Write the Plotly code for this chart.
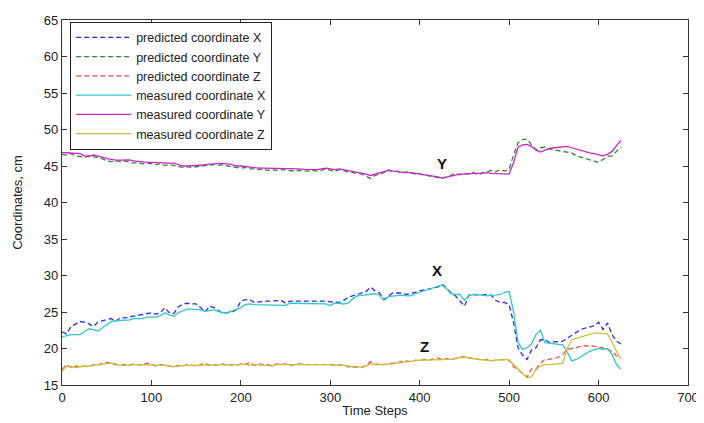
import plotly.graph_objects as go

steps = list(range(0, 626, 5))

meas_x = [21.6, 21.8, 21.9, 21.9, 21.9, 22.3, 22.7, 22.6, 22.4, 22.8,
          23.3, 23.7, 23.8, 23.9, 23.9, 23.9, 24.1, 24.1, 24.1, 24.3,
          24.3, 24.3, 24.5, 24.9, 24.6, 24.4, 24.9, 25.1, 25.4, 25.4,
          25.4, 25.3, 25.1, 25.2, 25.3, 25.1, 24.9, 24.9, 25.1, 25.3,
          25.6, 26.0, 26.1, 26.0, 26.0, 26.0, 26.0, 26.0, 26.0, 26.0,
          25.9, 26.2, 26.2, 26.2, 26.2, 26.2, 26.2, 26.2, 26.2, 26.1,
          25.9, 26.2, 26.2, 26.1, 26.2, 26.8, 27.2, 27.3, 27.4, 27.5,
          27.5, 27.3, 26.6, 27.1, 27.2, 27.3, 27.3, 27.2, 27.2, 27.5,
          27.7, 27.9, 28.1, 28.3, 28.6, 28.7, 28.2, 27.5, 27.4, 27.4,
          26.6, 27.2, 27.4, 27.4, 27.3, 27.2, 27.2, 27.3, 27.4, 27.7,
          27.8, 25.0, 20.8, 19.9, 20.1, 20.6, 21.9, 22.5, 20.8, 20.7,
          20.6, 20.5, 20.5, 19.5, 18.3, 18.5, 18.9, 19.3, 19.6, 19.8,
          20.0, 19.9, 20.0, 19.2, 17.8, 17.2]

pred_x = [22.3, 22.0, 23.0, 23.4, 23.7, 23.6, 23.4, 23.0, 23.6, 23.8,
          24.0, 24.1, 23.7, 24.2, 24.2, 24.3, 24.4, 24.5, 24.6, 24.7,
          24.9, 24.7, 24.9, 25.6, 24.9, 24.8, 25.7, 26.1, 26.2, 26.1,
          26.1, 25.6, 25.0, 25.8, 25.6, 25.2, 24.8, 24.9, 25.0, 25.3,
          26.5, 26.7, 26.7, 26.3, 26.4, 26.5, 26.5, 26.5, 26.5, 26.6,
          26.2, 26.5, 26.5, 26.5, 26.6, 26.5, 26.6, 26.5, 26.5, 26.5,
          26.4, 26.3, 26.3, 26.6, 27.0, 27.2, 27.4, 27.6, 27.8, 28.4,
          27.9, 27.6, 26.7, 27.2, 27.6, 27.6, 27.6, 27.4, 27.5, 27.7,
          27.9, 28.0, 28.1, 28.2, 28.4, 28.8, 28.3, 27.6, 27.2, 26.5,
          25.8, 27.3, 27.4, 27.4, 27.3, 27.4, 27.3, 26.6, 26.3, 26.3,
          26.0, 23.5, 20.1, 19.1, 18.5, 19.8, 20.1, 21.2, 21.2, 20.8,
          20.9, 21.0, 21.0, 21.4, 21.8, 22.2, 22.6, 22.8, 22.9, 23.1,
          23.6, 22.6, 23.5, 21.9, 21.0, 20.6]

meas_y = [46.85, 46.8, 46.8, 46.75, 46.7, 46.4, 46.3, 46.5, 46.4, 46.2,
          46.0, 45.85, 45.8, 45.8, 45.8, 45.85, 45.7, 45.6, 45.6, 45.5,
          45.5, 45.45, 45.4, 45.4, 45.4, 45.4, 45.2, 45.0, 45.0, 45.0,
          45.0, 45.1, 45.2, 45.2, 45.3, 45.35, 45.35, 45.3, 45.2, 45.0,
          45.0, 44.9, 44.85, 44.8, 44.7, 44.7, 44.7, 44.7, 44.7, 44.7,
          44.65, 44.6, 44.6, 44.6, 44.55, 44.5, 44.5, 44.5, 44.6, 44.7,
          44.6, 44.5, 44.6, 44.5, 44.4, 44.3, 44.2, 44.1, 43.9, 43.7,
          43.9, 44.0, 44.3, 44.4, 44.3, 44.2, 44.1, 44.1, 44.1, 44.0,
          44.0, 43.9, 43.8, 43.7, 43.5, 43.35, 43.5, 43.7, 43.8, 43.9,
          43.9, 44.0, 44.0, 44.0, 44.1, 44.1, 44.0, 44.0, 44.0, 43.9,
          43.9, 45.5, 47.6, 47.9, 47.95, 47.7, 47.2, 46.9, 47.2, 47.4,
          47.5, 47.6, 47.7, 47.7, 47.5, 47.3, 47.1, 47.0, 46.8, 46.7,
          46.5, 46.4, 46.6, 47.0, 47.8, 48.5]

pred_y = [46.6, 46.5, 46.7, 46.4, 46.3, 46.2, 46.4, 46.3, 46.1, 46.0,
          45.7, 45.6, 45.7, 45.6, 45.7, 45.6, 45.4, 45.5, 45.3, 45.4,
          45.3, 45.2, 45.3, 45.1, 45.2, 45.1, 44.9, 44.8, 44.9, 44.8,
          44.9, 45.0, 45.0, 45.1, 45.2, 45.1, 45.2, 45.0, 44.9, 44.8,
          44.7, 44.8, 44.6, 44.6, 44.5, 44.6, 44.4, 44.5, 44.4, 44.5,
          44.4, 44.4, 44.3, 44.4, 44.3, 44.3, 44.4, 44.3, 44.4, 44.6,
          44.4, 44.3, 44.5, 44.3, 44.2, 44.1, 44.0, 43.9, 43.6, 43.3,
          43.7, 43.9, 44.1, 44.5, 44.2, 44.3, 44.0, 44.2, 44.0, 43.9,
          43.9, 43.8, 43.7, 43.6, 43.4, 43.3, 43.5, 43.8, 44.0, 43.8,
          44.0, 43.9, 44.1, 43.8, 44.0, 44.1, 44.4, 44.2, 44.5, 44.3,
          44.6, 46.5, 48.2, 48.6, 48.7, 47.9, 47.2, 47.5, 47.6, 47.3,
          47.2, 47.1, 47.0, 46.9, 46.8, 46.4, 46.2, 46.0, 45.9, 45.6,
          45.5, 45.9, 46.3, 46.4, 47.0, 47.6]

meas_z = [16.9, 17.6, 17.5, 17.4, 17.5, 17.5, 17.6, 17.7, 17.8, 17.9,
          17.9, 18.0, 17.9, 17.7, 17.7, 17.8, 17.8, 17.8, 17.8, 17.8,
          17.8, 17.7, 17.7, 17.7, 17.6, 17.5, 17.6, 17.7, 17.7, 17.7,
          17.7, 17.7, 17.8, 17.7, 17.7, 17.8, 17.8, 17.8, 17.8, 17.7,
          17.8, 17.9, 17.7, 17.8, 17.8, 17.8, 17.7, 17.6, 17.8, 17.8,
          17.8, 17.8, 17.8, 17.8, 17.8, 17.8, 17.8, 17.8, 17.8, 17.9,
          17.8, 17.7, 17.8, 17.7, 17.6, 17.5, 17.45, 17.45, 17.6, 17.9,
          17.8, 17.8, 17.8, 17.8, 17.9, 18.0, 18.1, 18.2, 18.25, 18.3,
          18.4, 18.4, 18.4, 18.45, 18.4, 18.5, 18.5, 18.5, 18.6, 18.7,
          18.85, 18.7, 18.6, 18.5, 18.45, 18.4, 18.3, 18.4, 18.5, 18.5,
          18.4, 17.8, 17.1, 16.5, 16.0, 16.1, 17.1, 17.6, 17.8, 17.8,
          17.8, 17.9, 18.0, 20.0, 21.2, 21.4, 21.6, 21.8, 22.0, 22.1,
          22.1, 22.1, 22.0, 20.9, 19.6, 18.6]

pred_z = [17.1, 17.8, 17.4, 17.6, 17.5, 17.6, 17.5, 17.8, 17.7, 18.0,
          18.1, 17.9, 17.8, 17.7, 17.8, 17.7, 17.9, 17.8, 17.7, 18.0,
          17.8, 17.6, 17.8, 17.7, 17.7, 17.5, 17.7, 17.6, 17.8, 17.7,
          17.6, 17.8, 18.0, 17.7, 17.8, 17.7, 17.9, 17.7, 17.8, 17.7,
          17.9, 17.8, 18.1, 17.7, 17.9, 17.8, 17.8, 17.6, 17.9, 17.8,
          17.9, 17.7, 17.8, 17.9, 17.8, 17.8, 17.9, 17.8, 17.9, 17.9,
          17.8, 17.8, 17.7, 17.8, 17.5, 17.4, 17.5, 17.4, 17.7, 18.2,
          17.8, 17.9, 17.8, 17.9, 18.0, 18.1, 18.1, 18.3, 18.2, 18.4,
          18.3, 18.5, 18.4, 18.6, 18.7, 18.5, 18.6, 18.5, 18.7, 18.8,
          18.9, 18.7, 18.6, 18.5, 18.4, 18.5, 18.3, 18.4, 18.5, 18.5,
          18.4, 17.5, 17.1, 16.6, 16.1, 17.2, 17.2, 18.0, 18.5, 18.5,
          18.6, 18.8, 19.2, 19.9, 20.0, 20.2, 20.3, 20.4, 20.4, 20.3,
          20.2, 20.1, 19.9, 19.6, 19.0, 18.8]

series = [
    ("predicted coordinate X", pred_x, "#2b2bff", "5px,3px"),
    ("predicted coordinate Y", pred_y, "#2e8b2e", "5px,3px"),
    ("predicted coordinate Z", pred_z, "#ff4a4a", "5px,3px"),
    ("measured coordinate X", meas_x, "#30c8c8", "solid"),
    ("measured coordinate Y", meas_y, "#cc22cc", "solid"),
    ("measured coordinate Z", meas_z, "#c8c03a", "solid"),
]

fig = go.Figure()
for name, vals, color, dash in series:
    fig.add_trace(go.Scatter(x=steps, y=vals, mode="lines", name=name,
                             line=dict(color=color, width=1.3, dash=dash)))

axis_font = dict(family="Liberation Sans, Arial, sans-serif", size=13, color="#222")
fig.update_xaxes(range=[0, 700], tickvals=[0, 100, 200, 300, 400, 500, 600, 700],
                 ticks="inside", ticklen=5, tickcolor="#333", showline=True,
                 linecolor="#333", linewidth=1.2, mirror="ticks", showgrid=False,
                 zeroline=False, tickfont=axis_font, automargin=False,
                 title=dict(text="Time Steps", font=axis_font, standoff=2))
fig.update_yaxes(range=[15, 65], tickvals=list(range(15, 66, 5)),
                 ticks="inside", ticklen=5, tickcolor="#333", showline=True,
                 linecolor="#333", linewidth=1.2, mirror="ticks", showgrid=False,
                 zeroline=False, tickfont=axis_font, automargin=False,
                 title=dict(text="Coordinates, cm", font=axis_font, standoff=18))

for txt, xv, yv in [("Y", 425, 45.4), ("X", 419, 30.7), ("Z", 405, 20.3)]:
    fig.add_annotation(x=xv, y=yv, text="<b>%s</b>" % txt, showarrow=False,
                       font=dict(family="Liberation Sans, Arial, sans-serif", size=15, color="#111"))

fig.update_layout(
    width=696, height=415,
    margin=dict(l=54, r=16, t=12, b=37.5),
    paper_bgcolor="white", plot_bgcolor="white",
    showlegend=True,
    legend=dict(x=0.013, y=0.995, xanchor="left", yanchor="top",
                bgcolor="white", bordercolor="#222", borderwidth=1,
                font=dict(family="Liberation Sans, Arial, sans-serif", size=12.5, color="#222"),
                tracegroupgap=0, itemwidth=55),
)

fig.write_html("out.html")
